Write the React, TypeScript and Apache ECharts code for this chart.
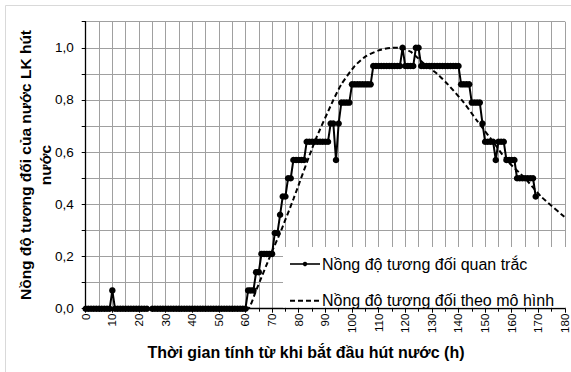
import { useEffect, useRef } from 'react';
import * as echarts from 'echarts';

// Observed relative concentration (hourly readings, t = hours)
const obsTime = [
  0, 1, 2, 3, 4, 5, 6, 7, 8, 9,
  10, 11, 12, 13, 14, 15, 16, 17, 18, 19,
  20, 21, 22, 23,
  25, 26, 27, 28, 29,
  30, 31, 32, 33, 34, 35, 36, 37, 38, 39,
  40, 41, 42, 43, 44, 45, 46, 47, 48, 49,
  50, 51, 52, 53, 54, 55, 56, 57, 58, 59,
  60, 61, 62, 63, 64, 65, 66, 67, 68, 69,
  70, 71, 72, 73, 74, 75, 76, 77, 78, 79,
  80, 81, 82, 83, 84, 85, 86, 87, 88, 89,
  90, 91, 92, 93, 94, 95, 96, 97, 98, 99,
  100, 101, 102, 103, 104, 105, 106, 107, 108, 109,
  110, 111, 112, 113, 114, 115, 116, 117, 118, 119,
  120, 121, 122, 123, 124, 125, 126, 127, 128, 129,
  130, 131, 132, 133, 134, 135, 136, 137, 138, 139,
  140, 141, 142, 143, 144, 145, 146, 147, 148, 149,
  150, 151, 152, 153, 154, 155, 156, 157, 158, 159,
  160, 161, 162, 163, 164, 165, 166, 167, 168, 169,
];
const obsValue = [
  0, 0, 0, 0, 0, 0, 0, 0, 0, 0,
  0.07, 0, 0, 0, 0, 0, 0, 0, 0, 0,
  0, 0, 0, 0,
  0, 0, 0, 0, 0,
  0, 0, 0, 0, 0, 0, 0, 0, 0, 0,
  0, 0, 0, 0, 0, 0, 0, 0, 0, 0,
  0, 0, 0, 0, 0, 0, 0, 0, 0, 0,
  0, 0.07, 0.07, 0.07, 0.14, 0.14, 0.21, 0.21, 0.21, 0.21,
  0.21, 0.29, 0.29, 0.36, 0.43, 0.43, 0.5, 0.5, 0.57, 0.57,
  0.57, 0.57, 0.57, 0.64, 0.64, 0.64, 0.64, 0.64, 0.64, 0.64,
  0.64, 0.64, 0.71, 0.71, 0.57, 0.71, 0.79, 0.79, 0.79, 0.79,
  0.86, 0.86, 0.86, 0.86, 0.86, 0.86, 0.86, 0.86, 0.93, 0.93,
  0.93, 0.93, 0.93, 0.93, 0.93, 0.93, 0.93, 0.93, 0.93, 1.0,
  0.93, 0.93, 0.93, 0.93, 1.0, 1.0, 0.93, 0.93, 0.93, 0.93,
  0.93, 0.93, 0.93, 0.93, 0.93, 0.93, 0.93, 0.93, 0.93, 0.93,
  0.93, 0.86, 0.86, 0.86, 0.86, 0.79, 0.79, 0.79, 0.79, 0.71,
  0.64, 0.64, 0.64, 0.64, 0.57, 0.64, 0.64, 0.64, 0.57, 0.57,
  0.57, 0.57, 0.5, 0.5, 0.5, 0.5, 0.5, 0.5, 0.5, 0.43,
];

// Model curve
const modelTime = [60, 61, 64, 70, 73, 78, 86, 93, 96, 101, 105, 110, 115, 118, 122, 127, 132, 136, 142, 147, 153, 158, 165, 171, 180];
const modelValue = [0, 0, 0.07, 0.22, 0.29, 0.42, 0.64, 0.8, 0.86, 0.93, 0.966, 0.99, 1.0, 1.0, 0.985, 0.94, 0.9, 0.86, 0.79, 0.72, 0.64, 0.57, 0.5, 0.43, 0.35];

const seriesNames = ['Nồng độ tương đối quan trắc', 'Nồng độ tương đối theo mô hình'];
const xTitle = 'Thời gian tính từ khi bắt đầu hút nước (h)';
const yTitle = 'Nồng độ tương đối của nước LK hút\nnước';

export default function App() {
  const ref = useRef<HTMLDivElement>(null);
  useEffect(() => {
    const chart = echarts.init(ref.current!, null, { renderer: 'svg' });
    const font = '"Liberation Sans", Arial, sans-serif';
    const grid = '#a0a0a0';
    chart.setOption({
      animation: false,
      backgroundColor: '#fff',
      grid: { left: 85.7, right: 5, top: 21.7, bottom: 63.3, containLabel: false },
      xAxis: {
        type: 'value', min: 0, max: 180, interval: 10,
        axisLine: { show: true, onZero: false, lineStyle: { color: '#000', width: 1.3 } },
        axisTick: { show: true, length: 4, lineStyle: { color: '#000' } },
        minorTick: { show: true, splitNumber: 2, length: 3, lineStyle: { color: '#000' } },
        axisLabel: { rotate: 90, margin: 5, fontSize: 11.5, color: '#000', fontFamily: font },
        splitLine: { show: true, lineStyle: { color: grid, width: 1 } },
        minorSplitLine: { show: true, lineStyle: { color: grid, width: 1 } },
      },
      yAxis: {
        type: 'value', min: 0, max: 1.1, interval: 0.1,
        axisLine: { show: true, lineStyle: { color: '#000', width: 1.3 } },
        axisTick: { show: true, length: 4, lineStyle: { color: '#000' } },
        axisLabel: {
          margin: 12, fontSize: 13.5, color: '#000', fontFamily: font,
          formatter: (v: number) => (Math.round(v * 10) % 2 === 0 ? v.toFixed(1).replace('.', ',') : ''),
        },
        splitLine: { show: true, lineStyle: { color: grid, width: 1 } },
      },
      graphic: [
        {
          type: 'rect', z: -10, silent: true,
          shape: { x: 5.5, y: 5.5, width: 600, height: 400 },
          style: { fill: 'none', stroke: '#d9d9d9', lineWidth: 1 },
        },
        {
          type: 'text', x: 306, y: 352,
          style: { text: xTitle, font: `bold 16px ${font}`, fill: '#000', align: 'center', verticalAlign: 'middle' },
        },
        {
          type: 'text', x: 35.5, y: 165, rotation: Math.PI / 2,
          style: { text: yTitle, font: `bold 15.5px ${font}`, fill: '#000', align: 'center', verticalAlign: 'middle', lineHeight: 20 },
        },
        // legend
        {
          type: 'rect', z: 100, silent: true,
          shape: { x: 283, y: 247, width: 283, height: 60.5 },
          style: { fill: '#fff' },
        },
        {
          type: 'line', z: 101,
          shape: { x1: 290, y1: 264, x2: 320, y2: 264 },
          style: { stroke: '#000', lineWidth: 1.6 },
        },
        {
          type: 'circle', z: 101,
          shape: { cx: 305, cy: 264, r: 2.2 },
          style: { fill: '#000' },
        },
        {
          type: 'text', z: 101, x: 322, y: 264,
          style: { text: seriesNames[0], font: `16px ${font}`, fill: '#000', align: 'left', verticalAlign: 'middle' },
        },
        {
          type: 'line', z: 101,
          shape: { x1: 290, y1: 300.7, x2: 320, y2: 300.7 },
          style: { stroke: '#000', lineWidth: 2, lineDash: [5, 3] },
        },
        {
          type: 'text', z: 101, x: 322, y: 300.7,
          style: { text: seriesNames[1], font: `16px ${font}`, fill: '#000', align: 'left', verticalAlign: 'middle' },
        },
      ],
      series: [
        {
          name: seriesNames[0], type: 'line',
          data: obsTime.map((t, i) => [t, obsValue[i]]),
          symbol: 'circle', symbolSize: 6.5, showSymbol: true,
          lineStyle: { color: '#000', width: 2 },
          itemStyle: { color: '#000' },
          z: 2,
        },
        {
          name: seriesNames[1], type: 'line',
          data: modelTime.map((t, i) => [t, modelValue[i]]),
          symbol: 'none', smooth: 0.2,
          lineStyle: { color: '#000', width: 2, type: [5, 3] },
          itemStyle: { color: '#000' },
          z: 3,
        },
      ],
    });
    return () => chart.dispose();
  }, []);
  return <div ref={ref} style={{ position: 'fixed', left: 0, top: 0, width: 571, height: 372, background: '#fff' }} />;
}
